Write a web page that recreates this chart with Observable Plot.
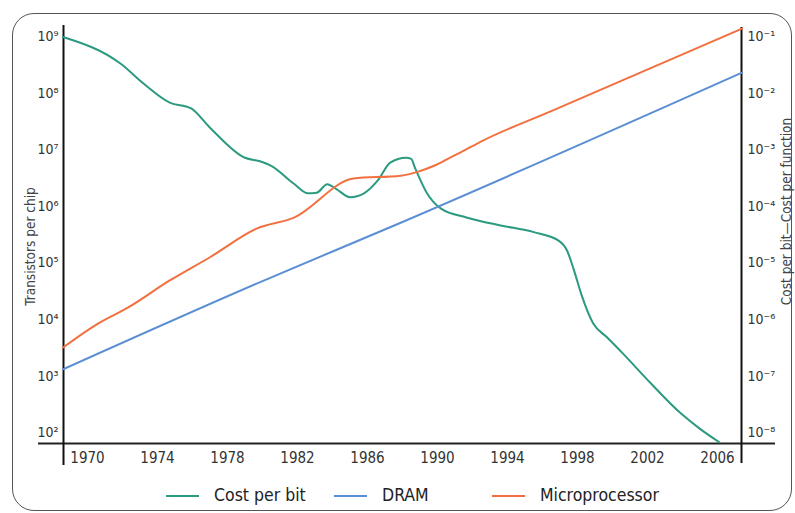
<!DOCTYPE html>
<html><head><meta charset="utf-8">
<script src="https://cdn.jsdelivr.net/npm/d3@7"></script>
<script src="https://cdn.jsdelivr.net/npm/@observablehq/plot@0.6"></script>
<style>
body{margin:0;background:#fff;}
#wrap{position:relative;width:795px;height:513px;overflow:hidden;font-family:"Liberation Sans Narrow","Arial Narrow","DejaVu Sans Condensed",sans-serif;}
#frame{position:absolute;left:12px;top:13px;width:780px;height:498px;border:1.5px solid #555;border-radius:22px;box-sizing:border-box;}
#chart{position:absolute;left:0;top:0;}
#legend{position:absolute;left:0;top:478px;width:795px;height:34px;}
.sw{position:absolute;top:17px;width:33px;height:0;border-top:2.5px solid;}
.lt{position:absolute;top:5px;font-size:17.5px;color:#222;line-height:24px;}
</style></head>
<body><div id="wrap"><div id="frame"></div><div id="chart"></div><div id="legend"></div></div>
<script>
// Cost per bit (right axis, $)
const costYears = [1968.6, 1971.9, 1973.2, 1974.7, 1975.9, 1977.0, 1979.0, 1979.9, 1980.5, 1981.8, 1982.6, 1983.1, 1983.7, 1984.2, 1985.0, 1985.8, 1986.6, 1987.3, 1988.2, 1988.5, 1988.7, 1989.4, 1990.2, 1991.7, 1993.6, 1995.5, 1996.9, 1997.4, 1997.8, 1998.2, 1998.9, 1999.7, 2000.6, 2002.2, 2003.9, 2005.0, 2006.1];
const costPerBit = [0.098, 0.033, 0.0148, 0.0068, 0.0054, 0.00245, 0.00072, 0.00062, 0.00052, 0.00025, 0.00017, 0.000174, 0.000245, 0.000204, 0.000145, 0.00017, 0.00029, 0.00059, 0.00072, 0.00069, 0.00049, 0.00017, 0.000091, 0.000063, 0.000046, 0.000035, 0.000025, 0.0000166, 0.0000074, 0.0000029, 8.5e-7, 4.8e-7, 2.5e-7, 7.4e-8, 2.2e-8, 1.17e-8, 6.8e-9];
// Microprocessor transistors per chip (left axis)
const mpuYears = [1968.6, 1970.6, 1972.3, 1974.7, 1977.0, 1979.7, 1981.8, 1985.2, 1987.9, 1988.9, 1989.8, 1990.7, 1991.3, 1992.6, 1996.5, 2007.4];
const mpuTransistors = [3200, 8500, 16200, 49000, 126000, 407000, 631000, 3.1e6, 3.47e6, 4.1e6, 5.2e6, 7.2e6, 8.9e6, 1.45e7, 4.8e7, 1.38e9];
// DRAM transistors per chip (left axis)
const dramYears = [1968.6, 1979.7, 1987.9, 2007.4];
const dramTransistors = [1320, 43600, 513000, 2.3e8];

const xTicks = [1970, 1974, 1978, 1982, 1986, 1990, 1994, 1998, 2002, 2006];
const leftTicks = [1e2, 1e3, 1e4, 1e5, 1e6, 1e7, 1e8, 1e9];
const leftTickLabels = ["10²", "10³", "10⁴", "10⁵", "10⁶", "10⁷", "10⁸", "10⁹"];
const rightTickLabels = ["10⁻⁸", "10⁻⁷", "10⁻⁶", "10⁻⁵", "10⁻⁴", "10⁻³", "10⁻²", "10⁻¹"];
const seriesNames = ["Cost per bit", "DRAM", "Microprocessor"];
const seriesColors = ["#2b9a80", "#5b8fd4", "#f2703f"];
const leftTitle = "Transistors per chip";
const rightTitle = "Cost per bit—Cost per function";
const rightToLeft = 1e10; // right axis value × 1e10 = left axis position

const xDomain = [1968.63, 2007.37];
const yDomain = [Math.pow(10, 1.81), Math.pow(10, 9.194)];

const rows = [];
costYears.forEach((y, i) => rows.push({series: seriesNames[0], year: y, v: costPerBit[i] * rightToLeft}));
dramYears.forEach((y, i) => rows.push({series: seriesNames[1], year: y, v: dramTransistors[i]}));
mpuYears.forEach((y, i) => rows.push({series: seriesNames[2], year: y, v: mpuTransistors[i]}));

const idx = d => Math.round(Math.log10(d)) - 2;
const font = '"Liberation Sans Narrow","Arial Narrow","DejaVu Sans Condensed",sans-serif';

const chart = Plot.plot({
  width: 795, height: 478,
  marginLeft: 63, marginRight: 54, marginTop: 25, marginBottom: 35,
  style: {fontFamily: font, background: "transparent", color: "#333", overflow: "visible"},
  x: {domain: xDomain},
  y: {type: "log", domain: yDomain},
  color: {domain: seriesNames, range: seriesColors},
  marks: [
    Plot.axisX({ticks: xTicks, tickFormat: d => String(d), tickSize: 0, tickPadding: 9, fontSize: 15, label: null}),
    Plot.axisY({ticks: leftTicks, tickFormat: d => leftTickLabels[idx(d)], anchor: "left", tickSize: 0, tickPadding: 5, fontSize: 14, label: null}),
    Plot.axisY({ticks: leftTicks, tickFormat: d => rightTickLabels[idx(d)], anchor: "right", tickSize: 0, tickPadding: 6, fontSize: 14, label: null}),
    Plot.ruleY([yDomain[0]], {insetLeft: -25, insetRight: -34, stroke: "#222", strokeWidth: 2}),
    Plot.ruleX([xDomain[0]], {insetBottom: -22, stroke: "#111", strokeWidth: 2}),
    Plot.ruleX([xDomain[1]], {insetTop: 2, insetBottom: -20, stroke: "#111", strokeWidth: 2}),
    Plot.lineY(rows, {x: "year", y: "v", z: "series", stroke: "series", curve: "monotone-x", strokeWidth: 2}),
    Plot.text([leftTitle], {frameAnchor: "left", textAnchor: "middle", dx: -33, dy: 12, rotate: -90, fontSize: 13.5, fill: "#444"}),
    Plot.text([rightTitle], {frameAnchor: "right", textAnchor: "middle", dx: 45, dy: -23, rotate: -90, fontSize: 13.5, fill: "#444"})
  ]
});
document.getElementById("chart").appendChild(chart);

const legendX = [166, 334, 492];
const legend = document.getElementById("legend");
seriesNames.forEach((name, i) => {
  const sw = document.createElement("div");
  sw.className = "sw";
  sw.style.left = legendX[i] + "px";
  sw.style.borderTopColor = seriesColors[i];
  legend.appendChild(sw);
  const t = document.createElement("div");
  t.className = "lt";
  t.style.left = (legendX[i] + 48) + "px";
  t.textContent = name;
  legend.appendChild(t);
});
</script>
</body></html>
